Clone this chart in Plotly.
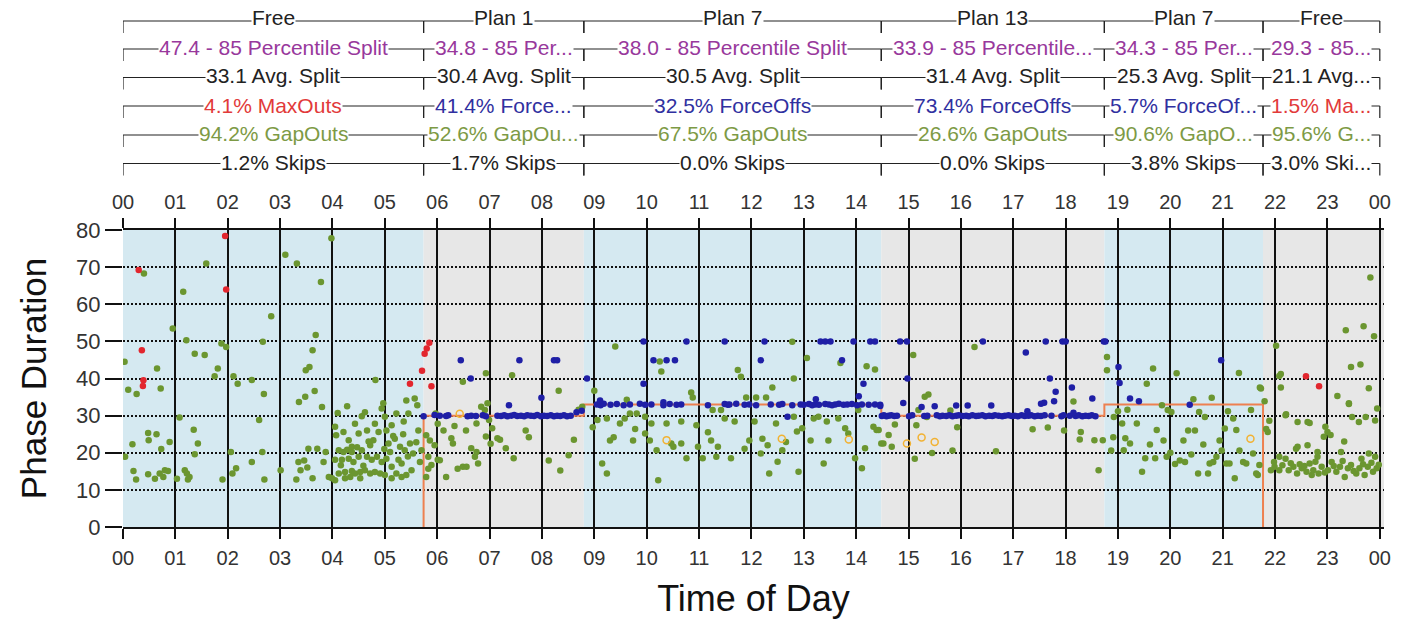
import plotly.graph_objects as go

# ---------------- data ----------------
hour_ticks = list(range(25))
hour_labels = [f"{h % 24:02d}" for h in hour_ticks]

plan_names = ["Free", "Plan 1", "Plan 7", "Plan 13", "Plan 7", "Free"]
plan_bounds = [0, 5.74, 8.8, 14.48, 18.74, 21.77, 24.0]

pct85_text = ["47.4 - 85 Percentile Split", "34.8 - 85 Per...", "38.0 - 85 Percentile Split",
              "33.9 - 85 Percentile...", "34.3 - 85 Per...", "29.3 - 85..."]
avg_text = ["33.1 Avg. Split", "30.4 Avg. Split", "30.5 Avg. Split", "31.4 Avg. Split",
            "25.3 Avg. Split", "21.1 Avg..."]
term_text = ["4.1% MaxOuts", "41.4% Force...", "32.5% ForceOffs", "73.4% ForceOffs",
             "5.7% ForceOf...", "1.5% Ma..."]
term_kind = ["max", "force", "force", "force", "force", "max"]
gap_text = ["94.2% GapOuts", "52.6% GapOu...", "67.5% GapOuts", "26.6% GapOuts",
            "90.6% GapO...", "95.6% G..."]
skip_text = ["1.2% Skips", "1.7% Skips", "0.0% Skips", "0.0% Skips", "3.8% Skips", "3.0% Ski..."]

# programmed split (step line)
split_t = [5.74, 5.74, 8.8, 14.48, 18.74, 21.77]
split_v = [0, 30, 33, 30, 33, 0]

gapouts = [
    # Free (00-05:44)
    (0.03, 44.5), (0.40, 68.3), (0.65, 42.7), (0.95, 53.5), (1.15, 63.4), (1.21, 50.3), (1.37, 46.7),
    (1.56, 46.3), (1.59, 71.0), (1.75, 40.6), (1.81, 42.7), (1.88, 49.4), (1.97, 48.5), (2.11, 40.6),
    (2.46, 39.6), (2.67, 49.9), (2.83, 56.8), (3.10, 73.3), (3.32, 71.0), (3.49, 42.2), (3.56, 43.1),
    (3.62, 47.6), (3.68, 51.7), (3.78, 66.0), (3.98, 77.8), (4.82, 39.6),
    (0.10, 37.0), (0.26, 35.8), (0.72, 37.3), (0.48, 25.3), (0.64, 25.0), (0.49, 23.4), (0.89, 22.9),
    (0.73, 21.0), (0.18, 22.3), (0.04, 18.9), (0.20, 15.1), (0.25, 12.8), (0.48, 14.2), (0.61, 13.0),
    (0.70, 14.4), (0.80, 15.3), (0.86, 15.1), (0.77, 13.5), (1.08, 29.5), (1.35, 26.2), (1.43, 22.5),
    (1.37, 19.6), (1.03, 13.0), (1.18, 15.3), (1.22, 14.4), (1.27, 13.5), (1.24, 12.8), (2.06, 20.2),
    (2.16, 15.8), (2.09, 14.4), (1.90, 12.8), (2.19, 38.6), (2.69, 35.8), (2.60, 28.8), (2.46, 17.5),
    (2.66, 20.2), (2.70, 12.8), (3.01, 15.3), (3.36, 33.7), (3.48, 35.1), (3.66, 36.6), (3.80, 32.3),
    (3.35, 17.5), (3.46, 17.9), (3.39, 15.3), (3.52, 16.0), (3.31, 12.8), (3.62, 13.1), (3.54, 21.1),
    (3.71, 21.1), (3.87, 20.2), (3.83, 17.5), (3.93, 13.5), (3.99, 13.1),
    (4.10, 30.7), (4.28, 32.5), (4.05, 27.0), (4.07, 24.7), (4.12, 20.7), (4.21, 20.2), (4.28, 20.8),
    (4.37, 20.2), (4.05, 18.1), (4.18, 18.1), (4.31, 18.4), (4.40, 17.5), (4.50, 18.9), (4.12, 14.4),
    (4.24, 14.8), (4.37, 15.1), (4.43, 14.4), (4.53, 14.8), (4.62, 15.3), (4.72, 14.4), (4.81, 14.8),
    (4.91, 14.4), (5.00, 14.0), (5.13, 13.1), (4.43, 27.8), (4.50, 25.2), (4.56, 29.8), (4.62, 30.9),
    (4.66, 26.0), (4.72, 22.0), (4.78, 23.4), (4.81, 27.8), (4.88, 25.6), (4.94, 31.9), (4.97, 33.3),
    (5.00, 29.7), (5.03, 26.0), (5.07, 22.5), (5.10, 20.2), (5.13, 27.4), (5.19, 23.8), (5.22, 30.6),
    (5.26, 18.1), (5.29, 21.6), (5.32, 17.1), (5.35, 25.0), (5.38, 20.7), (5.41, 34.1), (5.45, 30.6),
    (5.48, 22.5), (5.51, 15.3), (5.54, 19.8), (5.57, 34.6), (5.62, 32.8), (5.64, 26.0), (5.67, 17.5),
    (5.70, 20.7), (4.21, 25.6), (4.31, 23.4), (4.37, 21.6), (4.56, 20.7), (4.66, 18.9), (4.75, 18.1),
    (4.85, 18.9), (4.94, 17.5), (5.03, 18.4), (5.13, 16.2), (5.22, 14.4), (5.32, 13.5), (5.41, 14.0),
    (4.34, 13.5), (4.53, 13.1), (4.05, 12.6), (4.24, 13.1), (4.59, 16.5), (4.69, 23.0), (4.99, 21.0),
    (5.16, 24.5), (5.36, 28.4), (5.44, 19.0), (5.60, 22.8), (4.47, 21.5), (4.16, 16.6),
    # Plan 1
    (5.79, 24.7), (5.83, 18.9), (5.79, 13.5), (5.89, 16.7), (5.95, 22.0), (6.01, 18.1), (6.01, 27.8),
    (5.97, 30.6), (5.86, 23.3), (5.83, 15.7), (6.05, 18.0), (6.17, 13.5), (6.27, 23.9), (6.30, 22.5),
    (6.39, 15.7), (6.49, 16.2), (6.55, 26.0), (6.56, 16.2), (6.65, 21.2), (6.72, 18.9), (6.78, 17.1),
    (6.49, 39.1), (6.75, 27.9), (6.84, 32.4), (6.93, 41.4), (6.96, 33.3), (6.99, 28.8), (7.05, 26.6),
    (7.15, 23.9), (7.20, 23.5), (7.31, 21.2), (7.43, 40.9), (7.46, 18.5), (7.69, 26.0), (7.75, 24.2),
    (8.13, 17.9), (8.32, 36.7), (8.35, 15.2), (8.51, 19.3), (8.61, 23.5), (8.70, 31.6), (8.77, 32.4),
    (6.75, 20.2), (6.91, 31.5), (6.93, 24.4), (6.12, 26.0), (6.33, 27.2), (7.02, 22.4),
    # Plan 7
    (9.00, 36.7), (8.97, 26.9), (9.06, 28.8), (9.15, 17.1), (9.24, 14.4), (9.24, 29.2), (9.30, 23.3),
    (9.37, 24.2), (9.40, 48.6), (9.49, 27.9), (9.58, 29.2), (9.62, 34.3), (9.68, 30.6), (9.74, 23.3),
    (9.78, 26.4), (9.81, 30.6), (9.97, 29.7), (9.97, 25.2), (10.06, 23.3), (10.09, 27.9), (10.19, 20.7),
    (10.22, 12.6), (10.25, 44.6), (10.28, 41.9), (10.38, 27.9), (10.47, 22.5), (10.51, 21.6),
    (10.66, 28.4), (10.66, 22.5), (10.76, 18.5), (10.85, 36.2), (10.88, 34.9), (10.95, 27.4),
    (10.98, 21.6), (11.07, 18.5), (11.17, 25.5), (11.23, 23.3), (11.26, 31.5), (11.33, 18.9),
    (11.36, 21.6), (11.42, 31.5), (11.49, 29.2), (11.61, 18.5), (11.68, 28.4), (11.74, 42.3),
    (11.80, 40.5), (11.87, 21.1), (11.90, 34.9), (11.96, 23.3), (12.06, 28.4), (12.09, 34.9),
    (12.18, 19.8), (12.21, 23.8), (12.28, 34.9), (12.31, 22.0), (12.34, 14.4), (12.40, 37.6),
    (12.47, 27.9), (12.50, 17.6), (12.59, 20.7), (12.66, 22.9), (12.78, 49.9), (12.81, 40.0),
    (12.81, 29.7), (12.87, 25.7), (12.90, 14.9), (12.97, 26.6), (13.06, 45.5), (13.13, 23.3),
    (13.19, 29.2), (13.28, 29.7), (13.38, 17.1), (13.44, 28.4), (13.47, 23.3), (13.66, 29.2),
    (13.70, 44.2), (13.79, 26.6), (13.85, 25.2), (13.98, 18.5), (14.04, 31.5), (14.11, 15.8),
    (14.17, 21.2), (14.20, 43.3), (14.33, 27.0), (14.36, 42.4), (14.39, 26.1),
    # Plan 13
    (14.52, 22.5), (15.09, 46.3), (16.26, 48.5), (15.31, 35.1), (15.38, 35.7), (14.74, 27.6),
    (14.43, 26.1), (14.48, 22.5), (15.19, 31.5), (15.15, 27.4), (15.35, 29.6), (15.12, 18.4),
    (15.45, 19.9), (15.84, 20.6), (15.93, 26.9), (15.80, 31.4), (16.67, 20.4), (17.37, 26.3),
    (17.66, 26.8), (17.97, 26.0), (18.15, 33.8), (18.29, 25.6), (18.27, 23.6), (18.55, 23.4),
    (18.71, 23.4), (18.63, 15.3), (18.79, 45.8), (18.79, 42.2), (14.62, 24.8), (14.68, 21.6),
    # Plan 7 (evening)
    (18.92, 29.6), (19.08, 27.9), (18.91, 24.2), (19.14, 23.9), (19.23, 22.5), (18.87, 20.6),
    (19.11, 20.7), (19.36, 27.9), (19.46, 14.9), (19.52, 18.5), (19.61, 22.2), (19.67, 42.7),
    (19.55, 38.6), (19.71, 18.5), (19.74, 26.1), (19.84, 32.8), (19.87, 23.3), (19.93, 18.9),
    (20.02, 31.0), (20.09, 17.0), (20.12, 41.4), (20.18, 17.9), (20.25, 23.3), (20.28, 17.5),
    (20.34, 26.0), (20.44, 34.4), (20.47, 26.0), (20.53, 14.4), (20.63, 22.2), (20.66, 29.6),
    (20.72, 14.4), (20.75, 17.1), (20.79, 34.8), (20.82, 17.5), (20.88, 18.9), (20.94, 23.3),
    (20.98, 20.6), (21.04, 26.5), (21.07, 17.1), (21.13, 17.1), (21.20, 29.2), (21.23, 13.1),
    (21.26, 26.1), (21.31, 41.5), (21.32, 20.6), (21.39, 17.5), (21.45, 17.1), (21.54, 31.5),
    (21.58, 19.8), (21.67, 14.0), (21.71, 37.6), (21.64, 14.4), (21.70, 16.7), (19.00, 31.2),
    (19.18, 31.6), (19.95, 31.5), (20.55, 31.0), (21.10, 31.2), (20.00, 20.0), (20.40, 19.5),
    # Free (evening)
    (21.73, 37.3), (21.80, 33.9), (21.86, 25.6), (21.83, 26.4), (21.89, 28.6), (22.02, 48.8),
    (22.08, 40.7), (22.11, 37.6), (22.21, 30.4), (22.43, 28.3), (22.62, 28.3), (23.19, 35.3),
    (23.35, 53.0), (23.41, 33.1), (23.45, 43.1), (23.63, 43.8), (23.69, 54.1), (23.82, 67.2),
    (23.89, 51.4), (23.79, 37.4), (23.95, 31.9), (23.41, 33.3), (23.47, 29.6), (23.60, 28.3),
    (23.73, 29.6), (23.91, 28.7), (22.11, 41.2), (22.96, 27.0), (23.00, 25.6), (22.93, 24.3),
    (23.06, 24.8), (23.32, 23.0), (22.40, 21.1), (22.62, 22.0), (22.81, 20.2), (22.81, 18.9),
    (23.26, 20.2), (23.65, 18.4), (23.79, 19.8), (23.91, 18.9), (21.99, 16.2), (22.08, 15.3),
    (22.20, 18.4), (22.26, 15.3), (22.35, 16.2), (22.42, 14.4), (22.51, 15.8), (22.60, 14.9),
    (22.66, 17.1), (22.73, 15.3), (22.83, 14.4), (22.89, 16.2), (23.01, 15.3), (23.08, 17.5),
    (23.17, 14.9), (23.24, 16.2), (23.33, 13.5), (23.39, 15.8), (23.45, 16.7), (23.55, 14.4),
    (23.61, 15.8), (23.71, 14.0), (23.77, 16.2), (23.87, 14.9), (23.94, 15.8), (21.92, 15.3),
    (21.98, 17.5), (22.08, 18.9), (22.14, 16.6), (22.30, 17.2), (22.47, 16.9), (22.56, 16.4),
    (22.70, 14.0), (22.77, 17.6), (22.95, 14.7), (23.12, 16.4), (23.29, 17.8), (23.50, 15.1),
    (23.68, 16.9), (23.84, 17.3), (23.98, 16.8), (22.20, 30.1), (22.43, 21.6), (22.66, 28.0),
]

forceoffs = [
    # Plan 1 band at 30
    (5.74, 29.8), (5.95, 30.2), (6.05, 30.0), (6.17, 29.9), (6.21, 30.1), (6.58, 29.8), (6.65, 30.0),
    (6.74, 29.9), (6.87, 30.1), (6.93, 29.8), (7.15, 30.0), (7.22, 29.9), (7.28, 30.1), (7.34, 29.8),
    (7.41, 30.0), (7.47, 30.2), (7.53, 29.9), (7.60, 30.0), (7.66, 29.8), (7.72, 30.1), (7.79, 30.0),
    (7.85, 29.9), (7.91, 30.2), (7.98, 29.8), (8.04, 30.0), (8.10, 29.9), (8.17, 30.1), (8.23, 29.8),
    (8.29, 30.0), (8.35, 29.9), (8.42, 30.1), (8.48, 29.8), (8.55, 30.0),
    (6.45, 44.9), (6.64, 40.0), (7.57, 44.9), (7.99, 34.8), (7.37, 32.8), (8.23, 44.9), (8.29, 44.9),
    (8.86, 40.0), (8.66, 30.9), (8.76, 31.3),
    # Plan 7 band at 33
    (9.05, 33.0), (9.12, 32.8), (9.18, 33.2), (9.31, 32.9), (9.43, 33.1), (9.56, 32.8), (9.68, 33.0),
    (9.87, 33.2), (9.97, 32.9), (10.09, 33.0), (10.32, 32.8), (10.44, 33.1), (10.57, 32.9),
    (10.66, 33.0), (11.17, 32.8), (11.49, 33.1), (11.55, 32.9), (11.58, 33.0), (11.71, 33.2),
    (11.87, 32.9), (11.96, 33.0), (12.09, 32.8), (12.37, 33.0), (12.53, 32.9), (12.59, 33.1),
    (12.78, 32.8), (12.94, 33.0), (13.00, 32.9), (13.10, 33.1), (13.16, 32.8), (13.22, 33.0),
    (13.29, 32.9), (13.41, 33.1), (13.48, 33.0), (13.54, 32.8), (13.60, 33.0), (13.67, 33.2),
    (13.76, 32.9), (13.83, 33.0), (13.92, 33.1), (14.02, 32.8), (14.11, 33.0), (14.24, 32.9),
    (14.36, 33.0), (14.46, 32.9),
    (9.94, 50.0), (10.76, 50.0), (11.49, 50.0), (12.25, 50.0), (13.32, 50.0), (13.41, 50.0),
    (13.51, 50.0), (13.95, 50.0), (14.27, 50.0), (14.36, 50.0), (10.13, 44.9), (10.38, 44.9),
    (10.54, 44.9), (12.18, 44.9), (13.73, 44.9), (9.94, 38.6), (14.14, 38.6), (14.05, 35.2),
    (9.11, 34.1), (10.32, 33.6), (13.23, 34.4), (12.69, 29.7),
    # Plan 13 band at 30
    (14.49, 29.9), (14.53, 30.1), (14.58, 29.8), (14.62, 30.0), (14.67, 30.1), (14.73, 29.9),
    (14.78, 30.0), (15.01, 29.8), (15.07, 30.1), (15.30, 29.9), (15.36, 30.0), (15.54, 30.1),
    (15.60, 29.8), (15.65, 30.0), (15.72, 29.9), (15.78, 30.1), (15.84, 29.8), (15.91, 30.0),
    (15.96, 30.1), (16.03, 29.9), (16.10, 30.0), (16.15, 29.8), (16.22, 30.1), (16.29, 29.9),
    (16.34, 30.0), (16.41, 30.1), (16.47, 29.8), (16.54, 30.0), (16.60, 29.9), (16.65, 30.1),
    (16.72, 30.0), (16.79, 29.8), (16.84, 30.0), (16.91, 30.1), (16.97, 29.9), (17.03, 30.0),
    (17.09, 29.8), (17.16, 30.1), (17.22, 29.9), (17.29, 30.0), (17.34, 30.1), (17.41, 29.8),
    (17.47, 30.0), (17.53, 29.9), (17.60, 30.1), (17.73, 30.0), (17.92, 29.8), (17.96, 30.1),
    (18.08, 30.0), (18.19, 29.9), (18.25, 30.1), (18.32, 29.8), (18.38, 30.0), (18.44, 29.9),
    (18.50, 30.1), (18.57, 29.8),
    (14.84, 50.0), (14.97, 50.0), (16.42, 50.0), (17.62, 50.0), (17.94, 50.0), (18.00, 50.0),
    (18.73, 50.0), (18.76, 50.0), (17.24, 47.0), (14.98, 40.0), (17.70, 40.0), (18.12, 37.6),
    (17.81, 36.4), (14.46, 32.6), (14.90, 33.4), (15.25, 32.3), (15.50, 32.5), (15.91, 32.7),
    (16.13, 32.7), (16.58, 32.7), (17.53, 33.2), (17.59, 33.5), (17.78, 33.9), (18.51, 34.6),
    (17.27, 31.2), (18.15, 30.8),
    # Plan 7 (evening)
    (19.01, 43.1), (19.03, 38.8), (19.23, 34.6), (19.40, 33.9), (20.37, 32.9), (20.97, 44.9),
]

maxouts = [
    (0.30, 69.2), (0.36, 47.6), (0.39, 39.5), (0.38, 38.0), (1.95, 78.4), (1.97, 64.0),
    (5.48, 38.6), (5.71, 42.1), (5.76, 46.7), (5.80, 48.1), (5.85, 49.6), (5.89, 37.9),
    (22.59, 40.6), (22.84, 37.9),
]

unknown = [
    (6.43, 30.5), (10.38, 23.4), (12.58, 23.8), (13.86, 23.6), (14.97, 22.5), (15.25, 24.1),
    (15.50, 22.9), (21.53, 23.8),
]

# ---------------- styling constants ----------------
FONT = "Liberation Sans, Arial, sans-serif"
BLUE_BAND = "#D5E9F1"
GREY_BAND = "#E7E7E7"
C_GREEN = "#6B9630"
C_BLUE = "#1F1FA6"
C_RED = "#E2262E"
C_ORANGE = "#F2B233"
C_SPLIT = "#EE8050"
TXT_COLORS = {"pct": "#98389C", "avg": "#222222", "max": "#E23A3A", "force": "#3030A0",
              "gap": "#7D9A45", "skip": "#222222"}

X_MAX = 24.08
PLOT_TOP_PX, PLOT_BOT_PX = 230, 527


def paper_y(px):
    return (PLOT_BOT_PX - px) / (PLOT_BOT_PX - PLOT_TOP_PX)


fig = go.Figure()

fig.add_trace(go.Scatter(x=split_t, y=split_v, mode="lines", line=dict(color=C_SPLIT, width=2, shape="hv"),
                         hoverinfo="skip", showlegend=False))
fig.add_trace(go.Scatter(x=[p[0] for p in gapouts], y=[p[1] for p in gapouts], mode="markers",
                         marker=dict(color=C_GREEN, size=6.5, line=dict(width=0)), name="GapOut",
                         showlegend=False))
fig.add_trace(go.Scatter(x=[p[0] for p in forceoffs], y=[p[1] for p in forceoffs], mode="markers",
                         marker=dict(color=C_BLUE, size=6.5, line=dict(width=0)), name="ForceOff",
                         showlegend=False))
fig.add_trace(go.Scatter(x=[p[0] for p in maxouts], y=[p[1] for p in maxouts], mode="markers",
                         marker=dict(color=C_RED, size=6.5, line=dict(width=0)), name="MaxOut",
                         showlegend=False))
fig.add_trace(go.Scatter(x=[p[0] for p in unknown], y=[p[1] for p in unknown], mode="markers",
                         marker=dict(color="rgba(0,0,0,0)", size=7, line=dict(color=C_ORANGE, width=1.5)),
                         name="Unknown", showlegend=False))
# invisible trace so the top axis (labels) is rendered
fig.add_trace(go.Scatter(x=[0], y=[0], xaxis="x2", mode="markers", marker=dict(opacity=0),
                         hoverinfo="skip", showlegend=False))

shapes = []
# plan background bands
for i in range(len(plan_names)):
    x1 = plan_bounds[i + 1] if i < len(plan_names) - 1 else X_MAX
    shapes.append(dict(type="rect", xref="x", yref="y", x0=plan_bounds[i], x1=x1, y0=0, y1=80,
                       fillcolor=BLUE_BAND if i % 2 == 0 else GREY_BAND, line=dict(width=0), layer="below"))

rows = [
    (plan_names, ["avg"] * 6, 18, 21),
    (pct85_text, ["pct"] * 6, 47, 49),
    (avg_text, ["avg"] * 6, 76, 77.5),
    (term_text, term_kind, 105, 106),
    (gap_text, ["gap"] * 6, 134, 135),
    (skip_text, ["skip"] * 6, 162, 163.5),
]
TICK_PX = 12
annotations = []
for texts, kinds, ty, ly in rows:
    for i in range(len(plan_names)):
        x0, x1 = plan_bounds[i], plan_bounds[i + 1]
        yl = paper_y(ly)
        yt = paper_y(ly + TICK_PX)
        shapes.append(dict(type="line", xref="x", yref="paper", x0=x0, x1=x1, y0=yl, y1=yl,
                           line=dict(color="#222222", width=1.2)))
        shapes.append(dict(type="line", xref="x", yref="paper", x0=x0, x1=x0, y0=yl, y1=yt,
                           line=dict(color="#222222", width=1.2)))
        shapes.append(dict(type="line", xref="x", yref="paper", x0=x1, x1=x1, y0=yl, y1=yt,
                           line=dict(color="#222222", width=1.2)))
        annotations.append(dict(xref="x", yref="paper", x=(x0 + x1) / 2, y=paper_y(ty), text=texts[i],
                                showarrow=False, xanchor="center", yanchor="middle", bgcolor="white",
                                borderpad=0, font=dict(family=FONT, size=21, color=TXT_COLORS[kinds[i]])))

fig.update_layout(
    width=1403, height=624,
    margin=dict(l=123, r=13, t=PLOT_TOP_PX, b=624 - PLOT_BOT_PX, pad=0),
    paper_bgcolor="white", plot_bgcolor="white",
    font=dict(family=FONT, color="#333333"),
    shapes=shapes, annotations=annotations,
    showlegend=False,
    xaxis=dict(range=[0, X_MAX], tickmode="array", tickvals=hour_ticks, ticktext=hour_labels,
               showgrid=True, gridcolor="#111111", gridwidth=2, zeroline=False,
               showline=True, linecolor="#111111", linewidth=2, mirror="ticks",
               ticks="outside", ticklen=10, tickwidth=2, tickcolor="#111111",
               tickfont=dict(family=FONT, size=20, color="#333333"), ticklabelstandoff=2,
               title=dict(text="Time of Day", font=dict(family=FONT, size=36, color="#111111"), standoff=18)),
    xaxis2=dict(range=[0, X_MAX], overlaying="x", side="top", anchor="y", tickmode="array",
                tickvals=hour_ticks, ticktext=hour_labels, showgrid=False, zeroline=False, showline=False,
                ticks="", tickfont=dict(family=FONT, size=20, color="#333333"), ticklabelstandoff=16),
    yaxis=dict(range=[0, 80], tickmode="linear", tick0=0, dtick=10, showgrid=True, gridcolor="#111111",
               gridwidth=2, griddash="2px,2px", zeroline=False, showline=False,
               ticks="outside", ticklen=17, tickwidth=2, tickcolor="#111111",
               tickfont=dict(family=FONT, size=22, color="#333333"),
               title=dict(text="Phase Duration", font=dict(family=FONT, size=35, color="#111111"), standoff=18)),
)

fig.write_html("out.html", config={"displayModeBar": False},
               post_script="document.body.style.margin='0';document.body.style.overflow='hidden';")
